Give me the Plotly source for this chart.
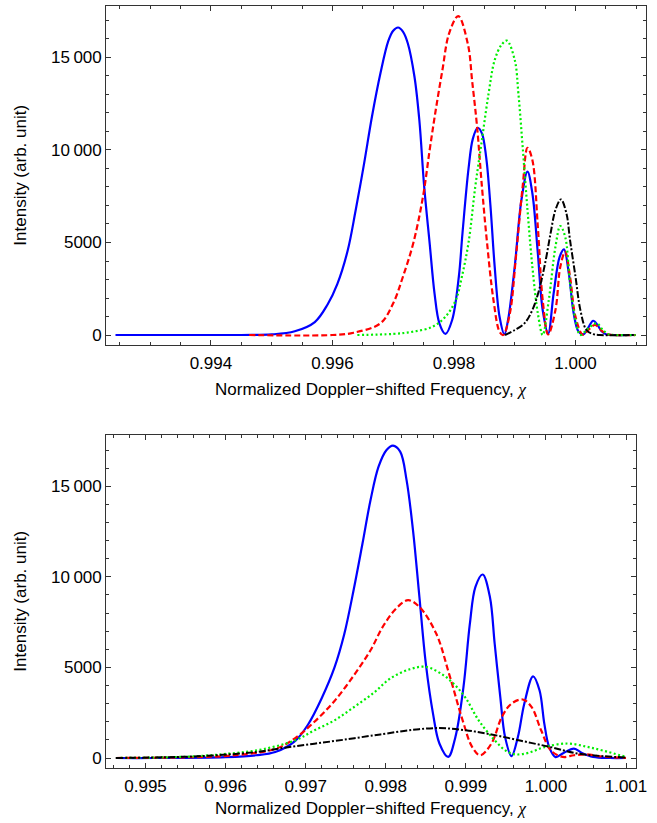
import plotly.graph_objects as go

# ---------------- Data: top panel ----------------
top_blue_x = [0.99243, 0.9945, 0.9950, 0.99538, 0.99571, 0.99592, 0.99608, 0.99625, 0.99638, 0.99652,
              0.99665, 0.99679, 0.99692, 0.99700, 0.99708, 0.99716, 0.99724, 0.99735, 0.99743, 0.99751,
              0.99760, 0.99768, 0.99776, 0.99786, 0.99797, 0.99808, 0.99814, 0.99824, 0.99831, 0.99839,
              0.99846, 0.99853, 0.99860, 0.99867, 0.99875, 0.99883, 0.99889, 0.99900, 0.99911, 0.99921,
              0.99929, 0.99938, 0.99946, 0.99955, 0.99964, 0.99974, 0.99981, 0.99989, 0.99997, 1.00005,
              1.00013, 1.00021, 1.00029, 1.00036, 1.00043, 1.00051, 1.00060, 1.00099]
top_blue_y = [0, 0, 30, 200, 700, 1650, 2750, 4550, 6700, 9250,
              11800, 14150, 15900, 16450, 16620, 16400, 15770, 13960, 11620, 8015,
              4956, 2254, 632, 60, 810, 3150, 5500, 9000, 10600, 11200,
              10900, 9600, 7000, 3700, 990, 40, 810, 3700, 7300, 8830,
              7660, 4420, 1350, 80, 2250, 4230, 4630, 3330, 1170, 180,
              40, 400, 770, 550, 200, 30, 0, 0]

top_red_x = [0.99463, 0.9960, 0.99635, 0.99679, 0.99700, 0.99716, 0.99733, 0.99749, 0.99760, 0.99770,
             0.99781, 0.99792, 0.99807, 0.99823, 0.99830, 0.99838, 0.99846, 0.99854, 0.99865,
             0.99875, 0.99881, 0.99892, 0.99902, 0.99913, 0.99921, 0.99929, 0.99938, 0.99946, 0.99955,
             0.99967, 0.99975, 0.99983, 0.99991, 1.00000, 1.00012, 1.00022, 1.00032, 1.00045, 1.00055,
             1.00065, 1.00099]
top_red_y = [0, 0, 125, 632, 1713, 3150, 4956, 7475, 10000, 12160,
             14320, 16300, 17240, 15700, 13700, 11260, 8020, 5130, 1890,
             180, 0, 1170, 4230, 8020, 10120, 9460, 5850, 1890, 30,
             1350, 3690, 4500, 3150, 990, 20, 300, 540, 180, 20,
             0, 0]

top_green_x = [0.99641, 0.99700, 0.99733, 0.99765, 0.99786, 0.99803, 0.99813, 0.99824, 0.99835, 0.99846,
               0.99857, 0.99867, 0.99878, 0.99887, 0.99900, 0.99906, 0.99913, 0.99921, 0.99929, 0.99938,
               0.99946, 0.99956, 0.99967, 0.99975, 0.99983, 0.99991, 1.00000, 1.00008, 1.00021, 1.00035,
               1.00045, 1.00055, 1.00065, 1.00099]
top_green_y = [0, 60, 180, 450, 990, 1890, 3150, 5000, 8000, 10540,
               13060, 14860, 15670, 15910, 14860, 13060, 10180, 6760, 3690, 1170,
               0, 1890, 4770, 5890, 5310, 2790, 810, 0, 360, 630,
               270, 30, 0, 0]

top_black_x = [0.99884, 0.99900, 0.99916, 0.99929, 0.99940, 0.99951, 0.99959, 0.99967, 0.99976, 0.99985,
               0.99991, 1.00000, 1.00008, 1.00018, 1.00029, 1.00040, 1.00099]
top_black_y = [0, 270, 630, 1350, 2430, 4050, 5500, 6760, 7330, 6580,
               5130, 3150, 1350, 270, 50, 0, 0]

# ---------------- Data: bottom panel ----------------
bot_blue_x = [0.99463, 0.9951, 0.9960, 0.99638, 0.99662, 0.99687, 0.99703, 0.99720, 0.99736, 0.99748,
              0.99760, 0.99771, 0.99781, 0.99791, 0.99801, 0.99809, 0.99818, 0.99826, 0.99834, 0.99842,
              0.99850, 0.99859, 0.99867, 0.99878, 0.99887, 0.99897, 0.99905, 0.99912, 0.99921, 0.99930,
              0.99936, 0.99943, 0.99949, 0.99957, 0.99965, 0.99973, 0.99984, 0.99992, 0.99998, 1.00004,
              1.00012, 1.00022, 1.00035, 1.00045, 1.00059, 1.00080, 1.00100]
bot_blue_y = [0, 0, 50, 150, 330, 950, 1850, 3300, 5000, 6800,
              9300, 11850, 14240, 16080, 17000, 17240, 16910, 15340, 12580, 8900,
              5220, 2450, 800, 60, 1160, 3900, 7400, 9450, 10130, 8900,
              6320, 3370, 1160, 100, 1160, 3000, 4510, 3740, 1900, 610,
              50, 280, 520, 280, 60, 0, 0]

bot_red_x = [0.99463, 0.9955, 0.99605, 0.99662, 0.99687, 0.99711, 0.99736, 0.99760, 0.99781, 0.99797,
             0.99814, 0.99828, 0.99842, 0.99863, 0.99879, 0.99896, 0.99908, 0.99918, 0.99932,
             0.99945, 0.99957, 0.99971, 0.99982, 0.99994, 1.00006, 1.00021, 1.00035, 1.00051, 1.00068,
             1.00100]
bot_red_y = [0, 40, 130, 500, 1100, 2000, 3150, 4550, 5950, 7300,
             8300, 8710, 8340, 6870, 4660, 2080, 600, 150, 800,
             2270, 3000, 3230, 2820, 1530, 425, 60, 150, 200, 90,
             0]

bot_green_x = [0.99463, 0.9955, 0.99604, 0.99646, 0.99687, 0.99711, 0.99736, 0.99760, 0.99785,
               0.99806, 0.99830, 0.99850, 0.99871, 0.99887, 0.99900, 0.99916, 0.99936, 0.99950, 0.99962,
               0.99978, 0.99998, 1.00027, 1.00051, 1.00072, 1.00100]
bot_green_y = [0, 70, 240, 480, 980, 1530, 2080, 2800, 3600,
               4400, 4900, 5030, 4600, 4000, 3300, 2080, 980, 400, 200,
               280, 600, 800, 620, 400, 60]

bot_black_x = [0.99463, 0.99539, 0.99588, 0.99638, 0.99674, 0.99711, 0.99748, 0.99785, 0.99801, 0.99834,
               0.99867, 0.99900, 0.99932, 0.99969, 1.00006, 1.00039, 1.00072, 1.00100]
bot_black_y = [0, 55, 150, 330, 570, 790, 1010, 1250, 1350, 1560,
               1650, 1530, 1300, 950, 600, 250, 100, 30]

y_tick_vals = [0, 5000, 10000, 15000]
y_tick_text = ["0", "5000", "10\u2009000", "15\u2009000"]
top_x_ticks = [0.994, 0.996, 0.998, 1.000]
top_x_text = ["0.994", "0.996", "0.998", "1.000"]
bot_x_ticks = [0.995, 0.996, 0.997, 0.998, 0.999, 1.000, 1.001]
bot_x_text = ["0.995", "0.996", "0.997", "0.998", "0.999", "1.000", "1.001"]

# ---------------- Figure ----------------
W, H = 657, 823
FONT = "Liberation Sans, Arial, Helvetica, sans-serif"
FRAME = "#333333"

styles = [
    dict(color="#0000FF", width=2.2, dash="solid"),
    dict(color="#FF0000", width=2.2, dash="6px,3px"),
    dict(color="#00EE00", width=2.2, dash="2px,2.5px"),
    dict(color="#000000", width=2.0, dash="7px,2px,2px,2px"),
]

fig = go.Figure()
top_series = [(top_blue_x, top_blue_y), (top_red_x, top_red_y),
              (top_green_x, top_green_y), (top_black_x, top_black_y)]
bot_series = [(bot_blue_x, bot_blue_y), (bot_red_x, bot_red_y),
              (bot_green_x, bot_green_y), (bot_black_x, bot_black_y)]
for (xs, ys), st in zip(top_series, styles):
    fig.add_trace(go.Scatter(x=xs, y=ys, mode="lines", line=dict(shape="spline", smoothing=1.0, **st),
                             xaxis="x", yaxis="y", showlegend=False, hoverinfo="skip"))
for (xs, ys), st in zip(bot_series, styles):
    fig.add_trace(go.Scatter(x=xs, y=ys, mode="lines", line=dict(shape="spline", smoothing=1.0, **st),
                             xaxis="x2", yaxis="y2", showlegend=False, hoverinfo="skip"))

def px_x(p):
    return p / W

def px_y(p):
    return 1 - p / H

common = dict(showgrid=False, zeroline=False, showline=True, linecolor=FRAME, linewidth=1,
              mirror="allticks", ticks="inside", ticklen=5, tickcolor=FRAME, tickwidth=1,
              ticklabeloverflow="allow",
              tickfont=dict(family=FONT, size=17, color="black"))

fig.update_layout(
    width=W, height=H, margin=dict(l=0, r=0, t=0, b=0),
    paper_bgcolor="white", plot_bgcolor="white",
    xaxis=dict(domain=[px_x(108), 1.0], range=[0.992277, 1.001160], anchor="y",
               tickmode="array", tickvals=top_x_ticks, ticktext=top_x_text, ticklabelstandoff=3,
               minor=dict(dtick=0.0005, tick0=0.994, ticks="inside", ticklen=3, tickcolor=FRAME),
               **common),
    yaxis=dict(domain=[px_y(345), px_y(6)], range=[-540, 17782], anchor="x",
               tickmode="array", tickvals=y_tick_vals, ticktext=y_tick_text,
               minor=dict(dtick=1000, tick0=0, ticks="inside", ticklen=3, tickcolor=FRAME),
               **common),
    xaxis2=dict(domain=[px_x(108), px_x(647)], range=[0.994509, 1.001127], anchor="y2",
                tickmode="array", tickvals=bot_x_ticks, ticktext=bot_x_text, ticklabelstandoff=3,
                minor=dict(dtick=0.0002, tick0=0.995, ticks="inside", ticklen=3, tickcolor=FRAME),
                **common),
    yaxis2=dict(domain=[px_y(768), px_y(435)], range=[-552, 17829], anchor="x2",
                tickmode="array", tickvals=y_tick_vals, ticktext=y_tick_text,
                minor=dict(dtick=1000, tick0=0, ticks="inside", ticklen=3, tickcolor=FRAME),
                **common),
)

xtitle = ("Normalized Doppler\u2212shifted Frequency, "
          "<span style=\"font-family:'Liberation Serif', 'DejaVu Serif', serif\"><i>\u03c7</i></span>")
ytitle = "Intensity (arb. unit)"
tfont = dict(family=FONT, size=17, color="black")
ann = [
    dict(text=xtitle, x=px_x(377), y=px_y(389), xref="paper", yref="paper",
         xanchor="center", yanchor="middle", showarrow=False, font=tfont),
    dict(text=xtitle, x=px_x(377), y=px_y(808), xref="paper", yref="paper",
         xanchor="center", yanchor="middle", showarrow=False, font=tfont),
    dict(text=ytitle, x=px_x(20), y=px_y(175), xref="paper", yref="paper", textangle=-90,
         xanchor="center", yanchor="middle", showarrow=False, font=tfont),
    dict(text=ytitle, x=px_x(20), y=px_y(601), xref="paper", yref="paper", textangle=-90,
         xanchor="center", yanchor="middle", showarrow=False, font=tfont),
]
fig.update_layout(annotations=ann)

fig.write_html("out.html", config={"displayModeBar": False},
               post_script="document.body.style.margin='0';document.body.style.padding='0';"
                           "document.body.style.overflow='hidden';")
